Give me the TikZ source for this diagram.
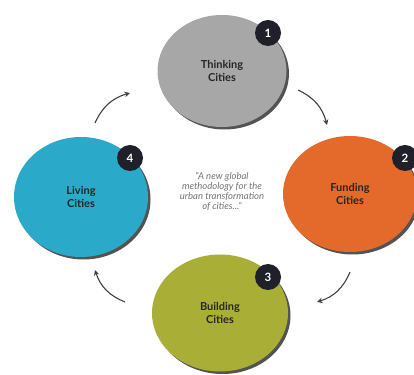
\documentclass[tikz,border=0pt]{standalone}
\usepackage{fontspec}
\setmainfont{Lato}
\usetikzlibrary{shapes.geometric,shadows,arrows.meta}
\definecolor{grayc}{HTML}{A7A7A7}
\definecolor{orangec}{HTML}{E36A2B}
\definecolor{bluec}{HTML}{2AAAC8}
\definecolor{olivec}{HTML}{A9AF36}
\definecolor{badgec}{HTML}{1F2029}
\tikzset{
  city/.style={ellipse,minimum width=132pt,minimum height=116pt,inner sep=0pt,
    align=center,text=black!85,font=\fontsize{11}{13.5}\selectfont\bfseries,
    drop shadow={shadow xshift=2.5pt,shadow yshift=-2.5pt,opacity=0.9,fill=black!75}},
  num/.style={circle,fill=badgec,text=white,minimum size=26pt,inner sep=0pt,
    font=\fontsize{11.5}{11.5}\selectfont\bfseries},
  flow/.style={draw=black!75,line width=1.1pt,-{Stealth[length=5.5pt,width=5.5pt]},bend left=25}
}
\begin{document}
\begin{tikzpicture}[x=1pt,y=1pt]
\useasboundingbox (0,0) rectangle (414,374);
%上
\node[city,fill=grayc,minimum width=129pt,minimum height=112pt] (think) at (222,303) {Thinking\\Cities};
\node[num] (n1) at (268,341) {1};
%右
\node[city,fill=orangec,minimum width=134pt] (fund) at (350,180) {Funding\\Cities};
\node[num] (n2) at (405,216) {2};
%下
\node[city,fill=olivec,minimum width=136pt,minimum height=117pt] (build) at (220,61) {Building\\Cities};
\node[num] (n3) at (268,97) {3};
%左
\node[city,fill=bluec,minimum width=134pt,minimum height=120pt] (live) at (81,177) {Living\\Cities};
\node[num] (n4) at (130,216) {4};
%中间
\node[align=center,text=black!55,font=\fontsize{9.5}{10}\selectfont\itshape] (quote) at (222,183)
  {``A new global\\methodology for the\\urban transformation\\of cities...''};

%箭头
\coordinate (a1) at (95,251);
\coordinate (b1) at (130,281);
\coordinate (a2) at (298,284);
\coordinate (b2) at (327,249);
\coordinate (a3) at (350,102);
\coordinate (b3) at (317,72);
\coordinate (a4) at (125,72);
\coordinate (b4) at (95,104);
\draw[flow] (a1) to (b1);
\draw[flow] (a2) to (b2);
\draw[flow] (a3) to (b3);
\draw[flow] (a4) to (b4);
\end{tikzpicture}
\end{document}
